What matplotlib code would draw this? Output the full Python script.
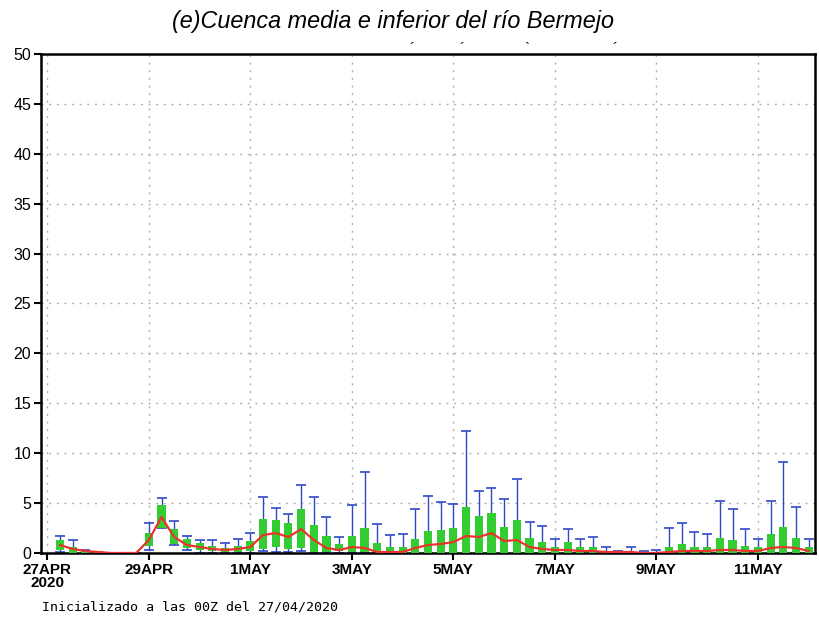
import numpy as np
import matplotlib
matplotlib.use("Agg")
import matplotlib.pyplot as plt

# 6-hourly forecast steps, hours since 27APR2020 00Z
hours = [6 * (k + 1) for k in range(60)]

# ensemble mean (red line)
mean = [0.8, 0.4, 0.2, 0.1, 0.0, 0.0, 0.0, 1.3, 3.6, 1.6,
        0.8, 0.6, 0.4, 0.3, 0.4, 0.6, 1.8, 2.0, 1.6, 2.4,
        1.3, 0.5, 0.3, 0.6, 0.5, 0.1, 0.1, 0.1, 0.5, 0.8,
        0.9, 1.1, 1.7, 1.6, 2.0, 1.2, 1.3, 0.6, 0.4, 0.3,
        0.3, 0.2, 0.2, 0.1, 0.1, 0.1, 0.0, 0.0, 0.1, 0.2,
        0.2, 0.2, 0.3, 0.3, 0.2, 0.2, 0.5, 0.6, 0.5, 0.2]
# box bottom / top (green)
box_lo = [0.3, 0.0, 0.0, 0.0, 0.0, 0.0, 0.0, 0.7, 2.5, 0.9,
          0.5, 0.3, 0.2, 0.1, 0.1, 0.2, 0.4, 0.6, 0.4, 0.5,
          0.1, 0.1, 0.2, 0.1, 0.1, 0.1, 0.0, 0.0, 0.0, 0.0,
          0.0, 0.0, 0.0, 0.0, 0.0, 0.0, 0.0, 0.0, 0.0, 0.0,
          0.0, 0.0, 0.0, 0.0, 0.0, 0.0, 0.0, 0.0, 0.0, 0.0,
          0.0, 0.0, 0.0, 0.0, 0.0, 0.0, 0.0, 0.0, 0.0, 0.0]
box_hi = [1.3, 0.6, 0.2, 0.1, 0.0, 0.0, 0.0, 2.0, 4.8, 2.4,
          1.4, 1.0, 0.7, 0.5, 0.7, 1.2, 3.4, 3.3, 3.0, 4.4,
          2.8, 1.7, 0.9, 1.7, 2.5, 1.0, 0.6, 0.6, 1.4, 2.2,
          2.3, 2.5, 4.6, 3.7, 4.0, 2.6, 3.3, 1.5, 1.1, 0.6,
          1.1, 0.6, 0.6, 0.2, 0.1, 0.1, 0.0, 0.0, 0.6, 0.9,
          0.6, 0.6, 1.5, 1.3, 0.7, 0.6, 1.9, 2.6, 1.5, 0.6]
# whisker min / max (blue)
w_min = [0.1, 0.0, 0.0, 0.0, 0.0, 0.0, 0.0, 0.3, 2.5, 0.8,
         0.3, 0.0, 0.0, 0.0, 0.0, 0.0, 0.2, 0.1, 0.1, 0.2,
         0.0, 0.0, 0.0, 0.0, 0.0, 0.0, 0.0, 0.0, 0.0, 0.0,
         0.0, 0.0, 0.0, 0.0, 0.0, 0.0, 0.0, 0.0, 0.0, 0.0,
         0.0, 0.0, 0.0, 0.0, 0.0, 0.0, 0.0, 0.0, 0.0, 0.0,
         0.0, 0.0, 0.0, 0.0, 0.0, 0.0, 0.0, 0.0, 0.0, 0.0]
w_max = [1.7, 1.3, 0.3, 0.1, 0.0, 0.0, 0.0, 3.0, 5.5, 3.2,
         1.7, 1.3, 1.3, 1.0, 1.4, 2.0, 5.6, 4.5, 3.9, 6.8,
         5.6, 3.6, 1.6, 4.8, 8.1, 2.9, 1.8, 1.9, 4.4, 5.7,
         5.1, 4.9, 12.2, 6.2, 6.5, 5.4, 7.4, 3.1, 2.7, 1.4,
         2.4, 1.4, 1.6, 0.6, 0.2, 0.6, 0.2, 0.3, 2.5, 3.0,
         2.1, 1.9, 5.2, 4.4, 2.4, 1.4, 5.2, 9.1, 4.6, 1.4]

tick_days = [0, 2, 4, 6, 8, 10, 12, 14]
tick_labels = ['27APR\n2020', '29APR', '1MAY', '3MAY', '5MAY', '7MAY', '9MAY', '11MAY']

t = np.array(hours) / 24.0
box_lo = np.array(box_lo)
box_hi = np.array(box_hi)
w_min = np.array(w_min)
w_max = np.array(w_max)

fig = plt.figure(figsize=(8.2, 6.24), dpi=100)
ax = fig.add_axes([0.05, 0.1138, 0.9439, 0.7997])

# whiskers with caps
ax.errorbar(t, (w_min + w_max) / 2, yerr=(w_max - w_min) / 2, fmt='none',
            ecolor='#3048c8', elinewidth=1.0, capsize=3.5, capthick=1.2, zorder=2)
# boxes
ax.bar(t, box_hi - box_lo, bottom=box_lo, width=0.16, color='#33cc33',
       edgecolor='none', zorder=3)
# mean line
ax.plot(t, mean, color='#e8342c', linewidth=1.6, zorder=4)

ax.set_xlim(-0.125, 15.125)
ax.set_ylim(0, 50)
ax.set_yticks(range(0, 51, 5))
ax.set_xticks(tick_days)
ax.set_xticklabels(tick_labels, fontfamily='Liberation Sans', fontsize=11,
                   fontweight='bold', linespacing=0.9)
for lab in ax.get_yticklabels():
    lab.set_fontfamily('Liberation Sans')
    lab.set_fontsize(11.5)
ax.tick_params(axis='both', direction='out', length=5, width=1.5, pad=2)
ax.grid(True, color='#b0b0b0', linestyle=(0, (1.5, 4)), linewidth=1.0)
ax.set_axisbelow(True)
for s in ax.spines.values():
    s.set_linewidth(1.8)

fig.text(0.479, 0.966, '(e)Cuenca media e inferior del río Bermejo',
         ha='center', va='center', fontsize=16.8, style='italic',
         fontfamily='Liberation Sans')
# stray accent marks under the title
for xm, m in [(412, '´'), (462, '´'), (527, '`'), (615, '´')]:
    fig.text(xm / 820, 1 - 49 / 624, m, ha='center', va='center', fontsize=11,
             fontfamily='Liberation Sans')

fig.text(42 / 820, 1 - 607 / 624, 'Inicializado a las 00Z del 27/04/2020',
         ha='left', va='center', fontsize=9.6, fontfamily='DejaVu Sans Mono')

fig.savefig('out.png', dpi=100)
